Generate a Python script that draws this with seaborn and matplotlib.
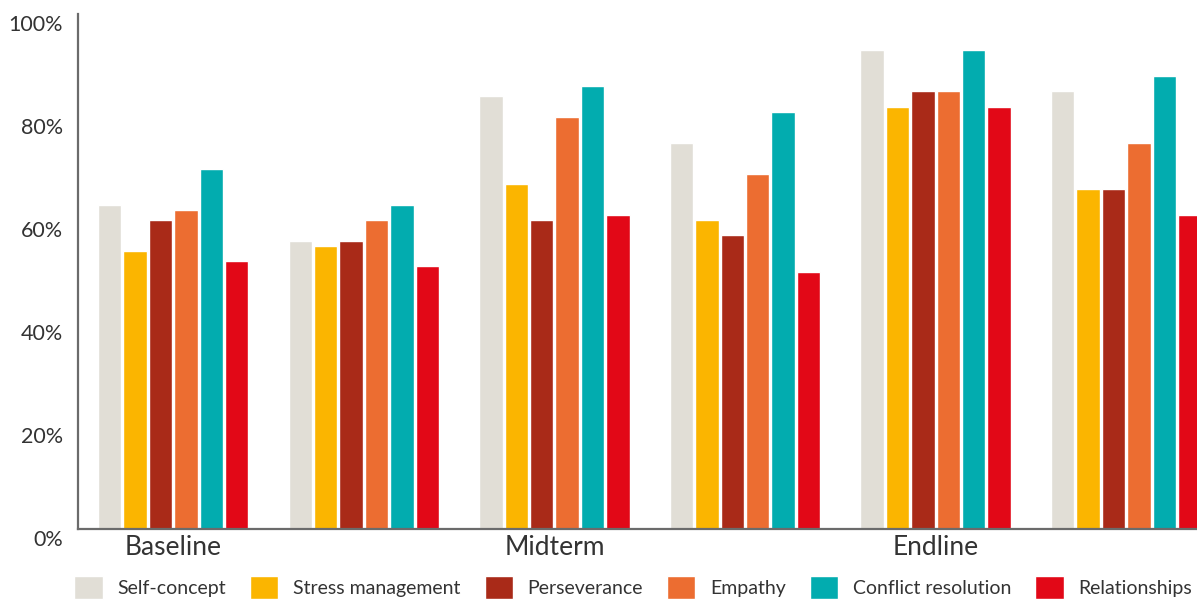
import pandas as pd
import matplotlib.pyplot as plt
import seaborn as sns
from matplotlib.transforms import ScaledTranslation

# six survey groups, only every other one carries a round label
groups = ["g1", "g2", "g3", "g4", "g5", "g6"]
round_labels = ["Baseline", "", "Midterm", "", "Endline", ""]

skills = ["Self-concept", "Stress management", "Perseverance",
          "Empathy", "Conflict resolution", "Relationships"]
colors = ["#E1DED6", "#FBB500", "#A92A18", "#EC6D31", "#02ACAF", "#E20817"]

self_concept = [63, 56, 84, 75, 93, 85]
stress_management = [54, 55, 67, 60, 82, 66]
perseverance = [60, 56, 60, 57, 85, 66]
empathy = [62, 60, 80, 69, 85, 75]
conflict_resolution = [70, 63, 86, 81, 93, 88]
relationships = [52, 51, 61, 50, 82, 61]

series = [self_concept, stress_management, perseverance,
          empathy, conflict_resolution, relationships]

rows = []
for skill, vals in zip(skills, series):
    for g, v in zip(groups, vals):
        rows.append({"group": g, "skill": skill, "pct": v})
df = pd.DataFrame(rows)

sns.set_theme(style="white")
plt.rcParams['font.family'] = ['Lato', 'DejaVu Sans']
text_col = "#333333"

fig = plt.figure(figsize=(11.97, 6.01), dpi=100)
ax = fig.add_axes([78 / 1197, 72 / 601, (1197 - 78) / 1197, 515 / 601])

sns.barplot(data=df, x="group", y="pct", hue="skill", order=groups,
            hue_order=skills, palette=colors, width=0.8, gap=0.08,
            saturation=1, ax=ax)

ax.set_ylim(0, 100)
ax.set_xlim(-0.5, 5.372)
ax.set_yticks([0, 20, 40, 60, 80, 100])
ax.set_yticklabels([f"{t}%" for t in [0, 20, 40, 60, 80, 100]],
                   fontsize=15.5, color=text_col)
ax.set_xticks(range(len(groups)))
ax.set_xticklabels(round_labels, fontsize=19, color=text_col)
ax.tick_params(axis='y', length=0, pad=11)
ax.tick_params(axis='x', length=0, pad=4)
ax.set_xlabel("")
ax.set_ylabel("")

# y labels sit a little lower than their gridline positions in the original
shift = ScaledTranslation(0, -9 / 100, fig.dpi_scale_trans)
for lab in ax.get_yticklabels():
    lab.set_transform(lab.get_transform() + shift)

for side in ["top", "right"]:
    ax.spines[side].set_visible(False)
for side in ["left", "bottom"]:
    ax.spines[side].set_color("#6b6b6b")
    ax.spines[side].set_linewidth(1.6)

handles, labels = ax.get_legend_handles_labels()
ax.legend_.remove()
fig.legend(handles, labels, loc="center", bbox_to_anchor=(0.529, 0.022),
           ncol=6, frameon=False, fontsize=14, handlelength=1.45,
           handleheight=1.45, handletextpad=0.75, columnspacing=1.25,
           labelcolor=text_col)

fig.savefig("out.png", dpi=100)
